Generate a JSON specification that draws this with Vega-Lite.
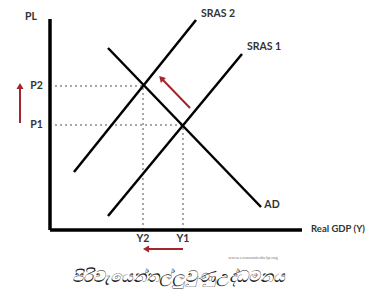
{
  "$schema": "https://vega.github.io/schema/vega-lite/v6.json",
  "width": 367,
  "height": 293,
  "autosize": {"type": "none"},
  "padding": 0,
  "background": "white",
  "config": {"view": {"stroke": null}},
  "datasets": {
    "axes": [
      {"x": 0, "y": 0, "x2": 0, "y2": 211},
      {"x": 0, "y": 0, "x2": 252, "y2": 0}
    ],
    "curves": [
      {"name": "AD", "x": 58, "y": 182, "x2": 211, "y2": 23},
      {"name": "SRAS 2", "x": 24, "y": 58, "x2": 146, "y2": 210},
      {"name": "SRAS 1", "x": 58, "y": 14, "x2": 192, "y2": 176}
    ],
    "guides": [
      {"x": 5, "y": 144, "x2": 93, "y2": 144},
      {"x": 5, "y": 105, "x2": 133, "y2": 105},
      {"x": 93, "y": 0, "x2": 93, "y2": 144},
      {"x": 133, "y": 0, "x2": 133, "y2": 105}
    ],
    "arrows": [
      {"x": -30, "y": 107, "x2": -30, "y2": 143, "angle": 0},
      {"x": 133, "y": -19, "x2": 97, "y2": -19, "angle": 270},
      {"x": 140, "y": 122, "x2": 112, "y2": 151, "angle": 316}
    ],
    "labels": [
      {"text": "PL", "x": -19, "y": 213},
      {"text": "P2", "x": -13.5, "y": 144},
      {"text": "P1", "x": -13.5, "y": 105},
      {"text": "Y2", "x": 93, "y": -9},
      {"text": "Y1", "x": 133, "y": -9},
      {"text": "SRAS 2", "x": 168, "y": 216},
      {"text": "SRAS 1", "x": 214, "y": 183},
      {"text": "AD", "x": 222, "y": 25}
    ],
    "xlabel": [
      {"text": "Real GDP (Y)", "x": 288, "y": 1}
    ],
    "credit": [
      {"text": "www.economicshelp.org", "x": 203, "y": -27}
    ],
    "caption": [
      {"text": "පිරිවැයෙන්තල්ලුවුණුඋද්ධමනය", "x": 128, "y": -47}
    ]
  },
  "encoding": {
    "x": {"type": "quantitative", "scale": {"domain": [-50, 317], "nice": false, "zero": false}, "axis": null},
    "y": {"type": "quantitative", "scale": {"domain": [-63, 230], "nice": false, "zero": false}, "axis": null}
  },
  "layer": [
    {
      "data": {"name": "guides"},
      "mark": {"type": "rule", "color": "#8a8a8a", "strokeWidth": 1.5, "strokeDash": [2, 3]},
      "encoding": {"x": {"field": "x"}, "y": {"field": "y"}, "x2": {"field": "x2"}, "y2": {"field": "y2"}}
    },
    {
      "data": {"name": "axes"},
      "mark": {"type": "rule", "color": "#000000", "strokeWidth": 3.5},
      "encoding": {"x": {"field": "x"}, "y": {"field": "y"}, "x2": {"field": "x2"}, "y2": {"field": "y2"}}
    },
    {
      "data": {"name": "curves"},
      "mark": {"type": "rule", "color": "#000000", "strokeWidth": 2.5},
      "encoding": {"x": {"field": "x"}, "y": {"field": "y"}, "x2": {"field": "x2"}, "y2": {"field": "y2"}}
    },
    {
      "data": {"name": "arrows"},
      "mark": {"type": "rule", "color": "#a3262a", "strokeWidth": 2},
      "encoding": {"x": {"field": "x"}, "y": {"field": "y"}, "x2": {"field": "x2"}, "y2": {"field": "y2"}}
    },
    {
      "data": {"name": "arrows"},
      "mark": {"type": "point", "shape": "triangle", "filled": true, "color": "#a3262a", "size": 50, "opacity": 1},
      "encoding": {"x": {"field": "x2"}, "y": {"field": "y2"}, "angle": {"field": "angle", "type": "quantitative", "scale": null}}
    },
    {
      "data": {"name": "labels"},
      "mark": {"type": "text", "font": "Lato", "fontWeight": "bold", "fontSize": 10.5, "color": "#333333", "baseline": "middle", "align": "center"},
      "encoding": {"x": {"field": "x"}, "y": {"field": "y"}, "text": {"field": "text"}}
    },
    {
      "data": {"name": "xlabel"},
      "mark": {"type": "text", "font": "Lato", "fontWeight": "bold", "fontSize": 9.5, "color": "#333333", "baseline": "middle", "align": "center"},
      "encoding": {"x": {"field": "x"}, "y": {"field": "y"}, "text": {"field": "text"}}
    },
    {
      "data": {"name": "credit"},
      "mark": {"type": "text", "font": "Liberation Serif", "fontSize": 5, "color": "#777777", "baseline": "middle", "align": "center"},
      "encoding": {"x": {"field": "x"}, "y": {"field": "y"}, "text": {"field": "text"}}
    },
    {
      "data": {"name": "caption"},
      "mark": {"type": "text", "fontSize": 16.5, "fontStyle": "italic", "color": "#222222", "baseline": "middle", "align": "center"},
      "encoding": {"x": {"field": "x"}, "y": {"field": "y"}, "text": {"field": "text"}}
    }
  ]
}
